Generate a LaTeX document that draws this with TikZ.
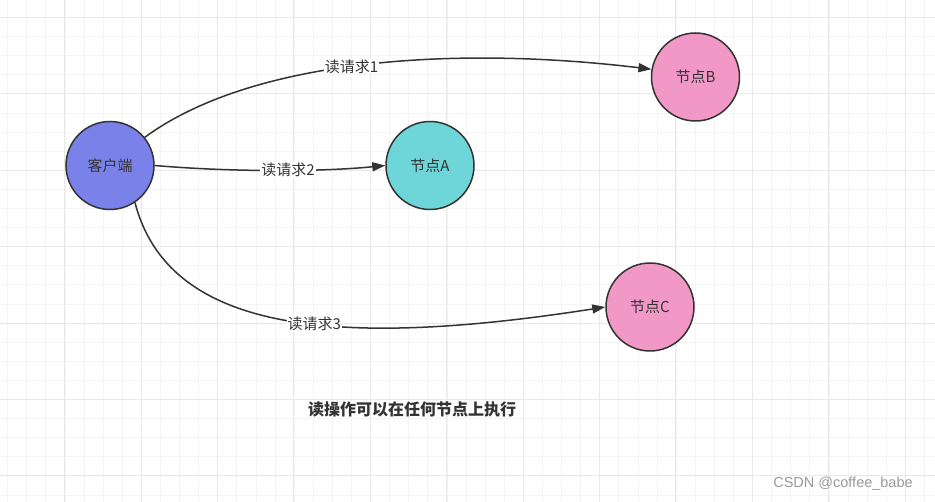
\documentclass[tikz,border=0pt]{standalone}
\usepackage{fontspec}
\setmainfont{Liberation Sans}
\newfontfamily\cjk{Noto Sans CJK SC}
\usetikzlibrary{arrows.meta}
\definecolor{ink}{HTML}{333333}
\definecolor{client}{HTML}{7A82EA}
\definecolor{teal}{HTML}{6ED6D8}
\definecolor{pinky}{HTML}{F198C7}
\definecolor{gridminor}{HTML}{F4F4F4}
\definecolor{gridmajor}{HTML}{E9E9E9}
\definecolor{mark}{HTML}{9A9A9A}

\begin{document}
\begin{tikzpicture}[x=1pt,y=-1pt,
  peer/.style={circle,draw=ink,line width=1.5pt,minimum size=88pt,inner sep=0pt,font=\cjk\fontsize{15}{17}\selectfont,text=ink},
  req/.style={draw=ink,line width=1.5pt,-{Triangle[length=13pt,width=9pt]}},
  reqlabel/.style={fill=white,inner sep=1pt,font=\cjk\fontsize{15}{17}\selectfont,text=ink}]
  \useasboundingbox (0,0) rectangle (935,502);
  \fill[white] (0,0) rectangle (935,502);
  % grid paper
  \foreach \gx in {0,...,49} {
    \draw[gridminor,line width=1pt] (7.7+19.1*\gx,0) -- (7.7+19.1*\gx,502);
  }
  \foreach \gy in {0,...,26} {
    \draw[gridminor,line width=1pt] (0,17.6+19.1*\gy) -- (935,17.6+19.1*\gy);
  }
  \foreach \gx in {0,...,12} {
    \draw[gridmajor,line width=1pt] (64.6+76.4*\gx,0) -- (64.6+76.4*\gx,502);
  }
  \foreach \gy in {0,...,6} {
    \draw[gridmajor,line width=1pt] (0,17.6+76.4*\gy) -- (935,17.6+76.4*\gy);
  }
  % nodes
  \node[peer,fill=client] (cli) at (110,165.5) {客户端};
  \node[peer,fill=teal] (na) at (430,165.5) {节点A};
  \node[peer,fill=pinky] (nb) at (695.5,77) {节点B};
  \node[peer,fill=pinky] (nc) at (650,307) {节点C};
  % read requests
  \draw[req] (cli.39) .. controls (250,60) and (450,45) .. (nb.170)
    node[reqlabel,pos=0.48] {读请求1};
  \draw[req] (cli.east) .. controls (230,172) and (320,172) .. (na.west)
    node[reqlabel,pos=0.56] {读请求2};
  \draw[req] (cli.-56) .. controls (168,330) and (330,350) .. (nc.west)
    node[reqlabel,pos=0.57] {读请求3};
  % caption and watermark
  \node[font=\cjk\bfseries\fontsize{16}{18}\selectfont,text=ink] (cap) at (412,409) {读操作可以在任何节点上执行};
  \node[font=\fontsize{14.5}{16}\selectfont,text=mark] (wm) at (843,484) {CSDN @coffee\_babe};
\end{tikzpicture}
\end{document}
